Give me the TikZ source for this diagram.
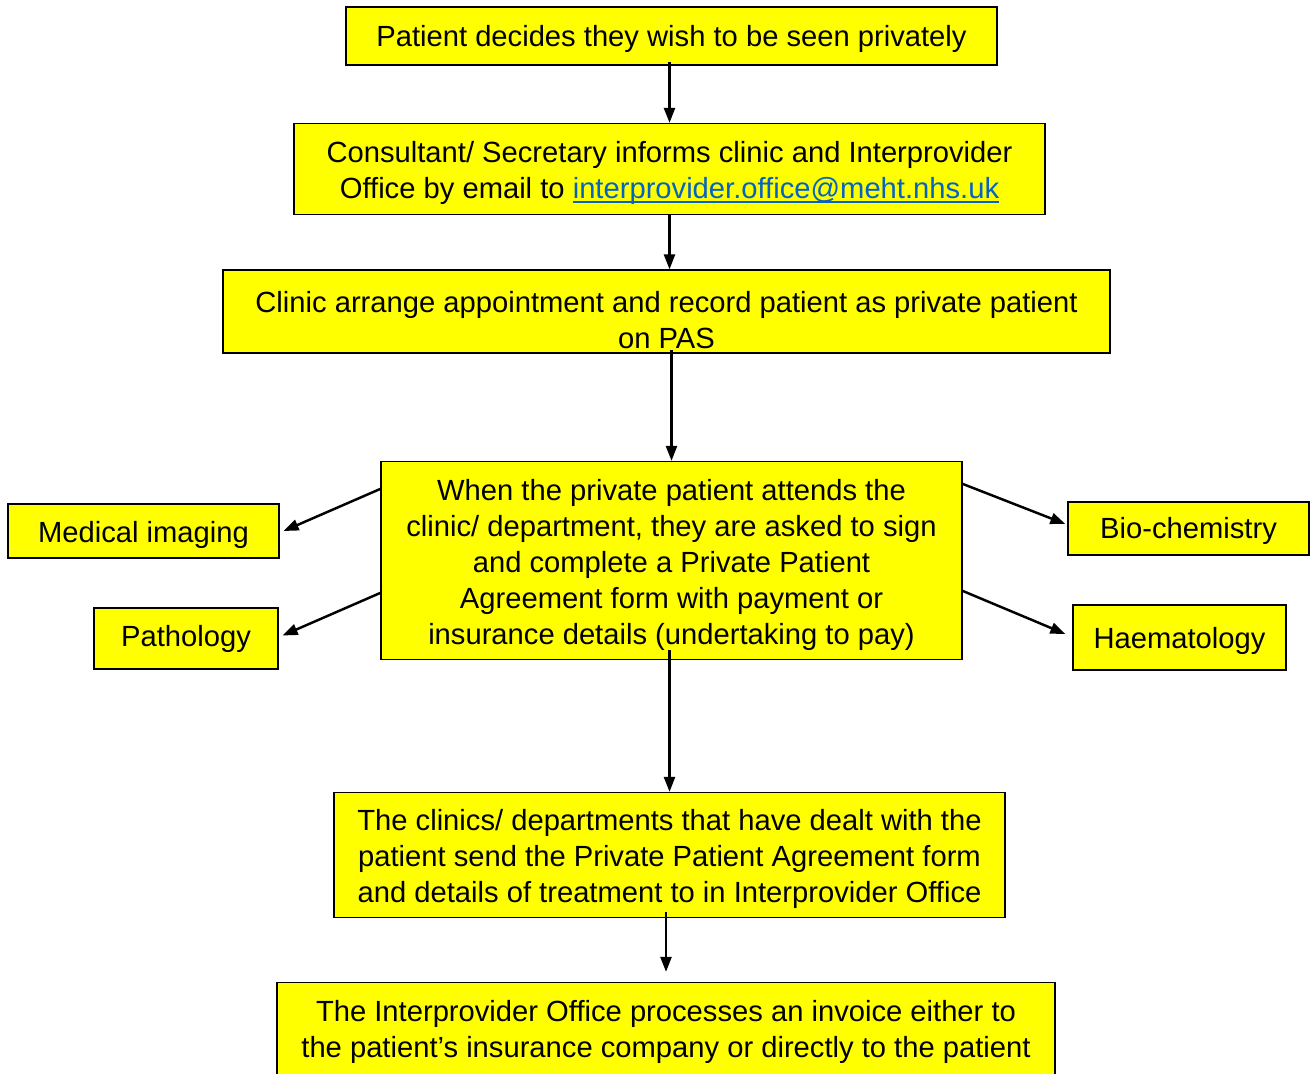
\documentclass[tikz,border=0pt]{standalone}
\usepackage{fontspec}
\setmainfont{Liberation Sans}
\usepackage{xcolor}
\usepackage{tikz}
\usetikzlibrary{arrows.meta}
\definecolor{boxyellow}{HTML}{FFFF00}
\definecolor{linkblue}{HTML}{0563C1}
\newcommand\maillink[1]{\textcolor{linkblue}{\setbox0\hbox{#1}\rlap{\rule[-3pt]{\wd0}{1.1pt}}\box0}}
\newcommand\lift[1][16pt]{\rule{0pt}{#1}}

\begin{document}
\begin{tikzpicture}[
        stepbox/.style={draw=black,line width=0.7pt,fill=boxyellow,
              text=black,align=center,inner sep=0pt,
              font=\fontsize{16.6pt}{20.5pt}\selectfont},
        flow/.style={line width=1.4pt,-{Triangle[length=0.3cm,width=0.22cm]}}]
        \useasboundingbox (0,0) rectangle (26.24,-21.48);
        \node[stepbox,minimum width=13.02cm,minimum height=1.16cm] (decide) at (13.43,-0.72)
          {\lift[15.2pt]Patient decides they wish to be seen privately};
        \node[stepbox,minimum width=15.02cm,minimum height=1.82cm] (inform) at (13.39,-3.38)
          {\lift Consultant/ Secretary informs clinic and Interprovider\\
           Office by email to \maillink{interprovider.office@meht.nhs.uk}};
        \node[stepbox,minimum width=17.74cm,minimum height=1.66cm] (arrange) at (13.33,-6.23)
          {\lift[22pt]Clinic arrange appointment and record patient as private patient\\
           on PAS};
        \node[stepbox,minimum width=11.62cm,minimum height=3.96cm] (attend) at (13.43,-11.21)
          {\lift[17.3pt]When the private patient attends the\\
           clinic/ department, they are asked to sign\\
           and complete a Private Patient\\
           Agreement form with payment or\\
           insurance details (undertaking to pay)};
        \node[stepbox,minimum width=5.42cm,minimum height=1.08cm] (imaging) at (2.87,-10.62)
          {\lift[16.5pt]Medical imaging};
        \node[stepbox,minimum width=3.68cm,minimum height=1.22cm] (pathology) at (3.72,-12.77)
          {Pathology};
        \node[stepbox,minimum width=4.82cm,minimum height=1.06cm] (biochem) at (23.77,-10.57)
          {\lift[14.8pt]Bio-chemistry};
        \node[stepbox,minimum width=4.26cm,minimum height=1.3cm] (haemat) at (23.59,-12.75)
          {\lift[16.3pt]Haematology};
        \node[stepbox,minimum width=13.42cm,minimum height=2.5cm] (send) at (13.39,-17.10)
          {\lift[16.7pt]The clinics/ departments that have dealt with the\\
           patient send the Private Patient Agreement form\\
           and details of treatment to in Interprovider Office};
        \node[stepbox,minimum width=15.56cm,minimum height=1.86cm] (invoice) at (13.32,-20.58)
          {\lift[15pt]The Interprovider Office processes an invoice either to\\
           the patient's insurance company or directly to the patient};

        \draw[flow] ([yshift=0.08cm]inform.north |- decide.south) -- (inform.north);
        \draw[flow] ([yshift=0.02cm]inform.south) -- (inform.south |- arrange.north);
        \draw[flow] ([yshift=0.08cm]attend.north |- arrange.south) -- (attend.north);
        \draw[flow] ([yshift=0.2cm]send.north |- attend.south) -- (send.north);
        \draw[flow] ([yshift=0.12cm]invoice.north |- send.south) -- ([yshift=0.2cm]invoice.north);
        \draw[flow] ([yshift=-0.56cm]attend.north west) -- ([xshift=0.08cm]imaging.east);
        \draw[flow] ([yshift=-2.64cm]attend.north west) -- ([xshift=0.08cm,yshift=0.06cm]pathology.east);
        \draw[flow] ([yshift=-0.46cm]attend.north east) -- ([xshift=-0.04cm,yshift=0.09cm]biochem.west);
        \draw[flow] ([yshift=-2.6cm]attend.north east) -- ([xshift=-0.14cm,yshift=0.07cm]haemat.west);
      \end{tikzpicture}
\end{document}
